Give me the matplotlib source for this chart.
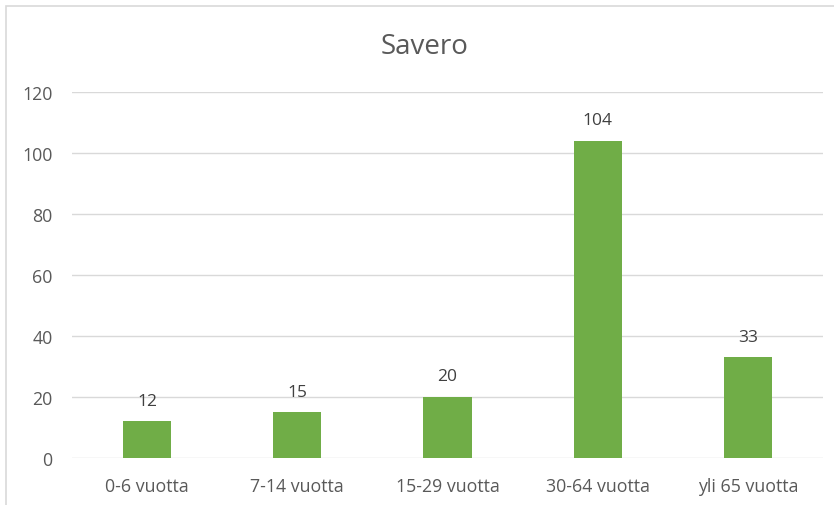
import matplotlib.pyplot as plt
from matplotlib.patches import Rectangle

plt.rcParams['font.family'] = ['Open Sans', 'DejaVu Sans']

categories = ['0-6 vuotta', '7-14 vuotta', '15-29 vuotta', '30-64 vuotta', 'yli 65 vuotta']
values = [12, 15, 20, 104, 33]
yticks = [0, 20, 40, 60, 80, 100, 120]

TEXT = '#595959'
GRID = '#D9D9D9'

fig = plt.figure(figsize=(8.34, 5.06), dpi=100)
ax = fig.add_axes([72 / 834, 1 - 459 / 506, 751 / 834, 366 / 506])

x = range(len(categories))
ax.bar(x, values, width=0.32, color='#70AD47', zorder=3)
for i, v in zip(x, values):
    ax.annotate(str(v), (i, v), xytext=(0, 12), textcoords='offset points',
                ha='center', va='baseline', fontsize=12.5, color='#404040')

ax.set_xlim(-0.5, len(categories) - 0.5)
ax.set_ylim(0, 120)
ax.set_yticks(yticks)
ax.set_xticks(list(x))
ax.set_xticklabels(categories)
ax.grid(axis='y', color=GRID, linewidth=1, zorder=0)
for s in ax.spines.values():
    s.set_visible(False)
ax.tick_params(axis='both', length=0, colors=TEXT, labelsize=12.8)
ax.tick_params(axis='y', pad=14)
ax.tick_params(axis='x', pad=14)

fig.text(425 / 834, 1 - 47 / 506, 'Savero', ha='center', va='center',
         fontsize=20, color=TEXT)

# chart border (only top and left edges are visible in the crop)
fig.patches.append(Rectangle((5.5 / 834, -0.1), 1.2, 1 - 7 / 506 + 0.1,
                             transform=fig.transFigure, fill=False,
                             edgecolor=GRID, linewidth=1.2))

fig.savefig('out.png', dpi=100)
